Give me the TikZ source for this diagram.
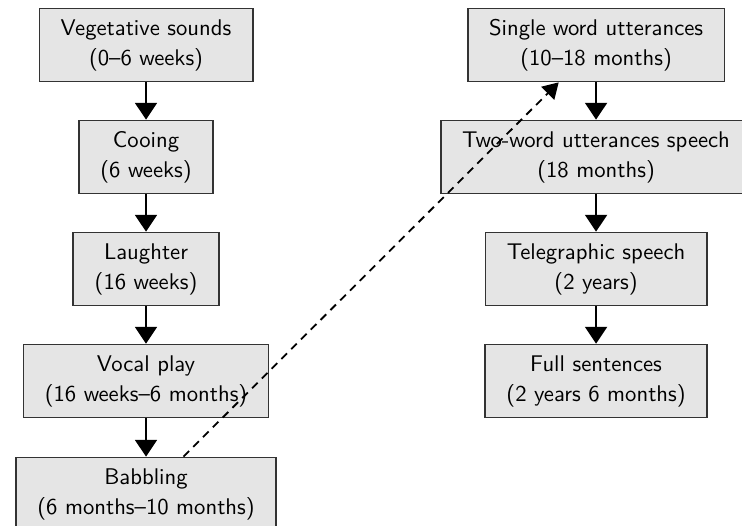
\documentclass[tikz,border=0pt]{standalone}
\usetikzlibrary{arrows.meta}
\begin{document}
\begin{tikzpicture}[font={\sffamily\linespread{1.1}\selectfont},
	stage/.style={draw=black!80, fill=gray!20, line width=0.8pt, align=center, minimum height=1.13cm, inner xsep=0.33cm},
	arr/.style={line width=0.8pt, -{Triangle[width=0.34cm,length=0.26cm]}}]

		\useasboundingbox (0,0) rectangle (11.5,8.1375);

		\node[stage] (veg) at (2.263,7.44) {Vegetative sounds\\(0--6 weeks)};
		\node[stage] (coo) at (2.263,5.704) {Cooing\\(6 weeks)};
		\node[stage] (lau) at (2.263,3.968) {Laughter\\(16 weeks)};
		\node[stage] (voc) at (2.263,2.232) {Vocal play\\(16 weeks--6 months)};
		\node[stage] (bab) at (2.263,0.481) {Babbling\\(6 months--10 months)};

		\node[stage] (sin) at (9.238,7.44) {Single word utterances\\(10--18 months)};
		\node[stage] (two) at (9.238,5.704) {Two-word utterances speech\\(18 months)};
		\node[stage] (tel) at (9.238,3.968) {Telegraphic speech\\(2 years)};
		\node[stage] (ful) at (9.238,2.232) {Full sentences\\(2 years 6 months)};

		\draw[arr] (veg)--(coo);
		\draw[arr] (coo)--(lau);
		\draw[arr] (lau)--(voc);
		\draw[arr] (voc)--(bab);
		\draw[arr] (sin)--(two);
		\draw[arr] (two)--(tel);
		\draw[arr] (tel)--(ful);

		\draw[arr, dash pattern=on 3.5pt off 2.6pt, -{Triangle[width=0.28cm,length=0.24cm]}] (bab)--(sin);

	\end{tikzpicture}
\end{document}
